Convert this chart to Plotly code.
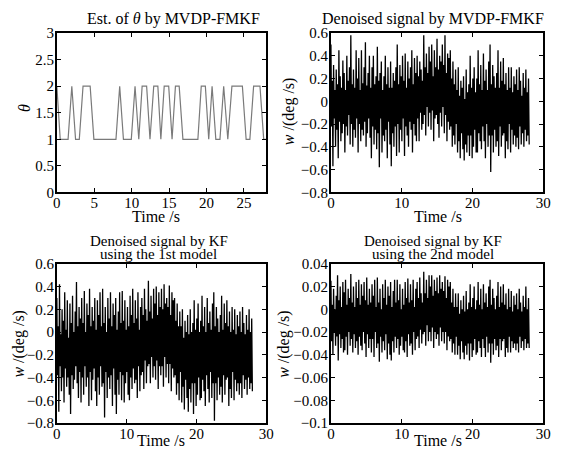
import numpy as np
import plotly.graph_objects as go

# ---- Data: theta estimate (corner points) ----
theta_t = [0, 0.45, 1.5, 2.0, 2.5, 3.0, 3.5, 4.45, 4.95, 7.9, 8.4, 8.9, 9.95, 10.45,
           10.95, 11.4, 12.0, 12.45, 12.95, 13.5, 13.9, 14.35, 14.95, 15.4, 15.85,
           16.35, 16.85, 18.85, 19.3, 19.85, 20.3, 20.75, 21.25, 21.8, 22.3, 22.85,
           23.4, 24.8, 25.3, 25.8, 26.3, 27.15, 27.65, 28.0]
theta_v = [2, 1, 1, 2, 1, 1, 2, 2, 1, 1, 2, 1, 1, 2,
           1, 2, 2, 1, 2, 2, 1, 2, 2, 1, 2,
           2, 1, 1, 2, 2, 1, 2, 1, 1, 2, 1,
           2, 2, 1, 1, 2, 2, 1, 1]

# ---- Data: denoised signals (peak / trough values) ----
w_mvdp = [
    0.50, -0.22, 0.18, -0.57, 0.32, -0.15, 0.10, -0.40, 0.28, -0.25,
    0.15, -0.50, 0.45, -0.18, 0.22, -0.35, 0.12, -0.28, 0.36, -0.20,
    0.25, -0.45, 0.10, -0.22, 0.40, -0.30, 0.18, -0.12, 0.30, -0.38,
    0.58, -0.20, 0.15, -0.40, 0.28, -0.25, 0.12, -0.32, 0.45, -0.15,
    0.20, -0.45, 0.38, -0.20, 0.10, -0.35, 0.45, -0.25, 0.16, -0.30,
    0.30, -0.18, 0.52, -0.40, 0.14, -0.28, 0.25, -0.15, 0.40, -0.32,
    0.12, -0.50, 0.30, -0.22, 0.40, -0.38, 0.15, -0.25, 0.22, -0.42,
    0.48, -0.28, 0.18, -0.58, 0.25, -0.15, 0.35, -0.45, 0.10, -0.30,
    0.22, -0.35, 0.40, -0.25, 0.15, -0.50, 0.30, -0.18, 0.12, -0.38,
    0.35, -0.57, 0.12, -0.28, 0.25, -0.40, 0.18, -0.22, 0.30, -0.48,
    0.50, -0.20, 0.15, -0.45, 0.32, -0.25, 0.22, -0.35, 0.40, -0.15,
    0.18, -0.48, 0.42, -0.22, 0.12, -0.30, 0.35, -0.40, 0.20, -0.18,
    0.30, -0.25, 0.45, -0.45, 0.15, -0.20, 0.38, -0.30, 0.25, -0.35,
    0.40, -0.15, 0.22, -0.35, 0.35, -0.10, 0.28, -0.25, 0.18, -0.20,
    0.58, -0.12, 0.30, -0.30, 0.42, -0.05, 0.25, -0.22, 0.48, -0.10,
    0.35, -0.25, 0.50, -0.08, 0.22, -0.35, 0.45, -0.15, 0.30, -0.12,
    0.55, -0.20, 0.28, -0.32, 0.40, -0.10, 0.35, -0.22, 0.50, -0.05,
    0.32, -0.28, 0.58, -0.12, 0.25, -0.35, 0.42, -0.18, 0.38, -0.25,
    0.45, -0.22, 0.20, -0.40, 0.35, -0.30, 0.15, -0.38, 0.28, -0.20,
    0.10, -0.45, 0.30, -0.35, 0.05, -0.50, 0.18, -0.28, 0.12, -0.42,
    0.22, -0.52, 0.02, -0.38, 0.28, -0.45, 0.08, -0.30, 0.15, -0.48,
    0.40, -0.30, 0.12, -0.50, 0.20, -0.40, 0.30, -0.25, 0.08, -0.45,
    0.20, -0.45, 0.45, -0.28, 0.15, -0.35, 0.32, -0.42, 0.10, -0.22,
    0.42, -0.35, 0.18, -0.50, 0.28, -0.20, 0.10, -0.40, 0.35, -0.30,
    0.50, -0.62, 0.15, -0.30, 0.32, -0.45, 0.22, -0.25, 0.12, -0.40,
    0.25, -0.35, 0.45, -0.48, 0.12, -0.22, 0.35, -0.40, 0.18, -0.30,
    0.38, -0.28, 0.15, -0.50, 0.25, -0.35, 0.10, -0.42, 0.30, -0.20,
    0.12, -0.45, 0.30, -0.25, 0.08, -0.38, 0.22, -0.30, 0.15, -0.40,
    0.28, -0.32, 0.10, -0.42, 0.30, -0.22, 0.18, -0.38, 0.05, -0.28,
    0.25, -0.40, 0.12, -0.25, 0.28, -0.35, 0.08, -0.30, 0.20, -0.38,
]
w_kf1 = [
    0.30, -0.38, 0.05, -0.70, 0.42, -0.30, -0.02, -0.52, 0.20, -0.40,
    0.10, -0.62, 0.35, -0.32, 0.02, -0.48, 0.28, -0.40, -0.05, -0.55,
    0.25, -0.72, 0.08, -0.38, 0.32, -0.50, 0.00, -0.42, 0.18, -0.30,
    0.44, -0.45, 0.05, -0.58, 0.22, -0.35, 0.12, -0.62, 0.30, -0.40,
    0.08, -0.55, 0.36, -0.30, 0.00, -0.48, 0.25, -0.40, 0.15, -0.65,
    0.38, -0.35, 0.05, -0.60, 0.22, -0.42, 0.10, -0.32, 0.30, -0.52,
    0.02, -0.65, 0.28, -0.40, 0.15, -0.55, 0.35, -0.30, 0.05, -0.48,
    0.38, -0.45, 0.08, -0.75, 0.22, -0.35, 0.00, -0.58, 0.30, -0.40,
    0.12, -0.50, 0.35, -0.38, 0.05, -0.65, 0.25, -0.32, 0.15, -0.55,
    0.30, -0.72, 0.02, -0.42, 0.18, -0.55, 0.35, -0.35, 0.08, -0.60,
    0.36, -0.38, 0.10, -0.62, 0.28, -0.45, 0.02, -0.35, 0.22, -0.55,
    0.05, -0.60, 0.32, -0.40, 0.15, -0.50, 0.38, -0.32, 0.08, -0.45,
    0.28, -0.42, 0.12, -0.58, 0.35, -0.30, 0.02, -0.52, 0.22, -0.38,
    0.30, -0.35, 0.15, -0.50, 0.38, -0.25, 0.20, -0.45, 0.10, -0.30,
    0.45, -0.28, 0.18, -0.45, 0.32, -0.22, 0.12, -0.40, 0.38, -0.30,
    0.25, -0.42, 0.40, -0.25, 0.15, -0.50, 0.35, -0.30, 0.22, -0.38,
    0.38, -0.30, 0.20, -0.48, 0.42, -0.22, 0.25, -0.40, 0.30, -0.28,
    0.22, -0.45, 0.41, -0.28, 0.15, -0.52, 0.35, -0.32, 0.28, -0.40,
    0.30, -0.38, 0.10, -0.55, 0.25, -0.45, 0.05, -0.60, 0.18, -0.35,
    0.05, -0.62, 0.20, -0.48, -0.05, -0.68, 0.10, -0.42, 0.00, -0.58,
    0.15, -0.70, -0.02, -0.50, 0.20, -0.62, 0.00, -0.45, 0.08, -0.72,
    0.28, -0.45, 0.02, -0.65, 0.12, -0.55, 0.25, -0.40, 0.00, -0.60,
    0.10, -0.58, 0.32, -0.42, 0.05, -0.52, 0.22, -0.65, 0.00, -0.38,
    0.30, -0.50, 0.08, -0.62, 0.18, -0.35, 0.02, -0.58, 0.25, -0.45,
    0.35, -0.78, 0.05, -0.45, 0.22, -0.60, 0.12, -0.40, 0.00, -0.55,
    0.15, -0.48, 0.32, -0.62, 0.02, -0.38, 0.25, -0.55, 0.08, -0.42,
    0.28, -0.40, 0.05, -0.65, 0.18, -0.50, 0.00, -0.58, 0.22, -0.35,
    0.02, -0.60, 0.20, -0.42, -0.02, -0.52, 0.15, -0.45, 0.05, -0.55,
    0.18, -0.45, 0.00, -0.58, 0.22, -0.38, 0.08, -0.50, -0.02, -0.42,
    0.15, -0.55, 0.02, -0.40, 0.20, -0.50, 0.00, -0.45, 0.12, -0.52,
]
w_kf2 = [
    0.025, -0.028, 0.004, -0.040, 0.018, -0.020, 0.000, -0.032, 0.012, -0.024,
    0.030, -0.045, 0.008, -0.022, 0.020, -0.034, 0.002, -0.026, 0.024, -0.038,
    0.015, -0.036, 0.026, -0.024, 0.004, -0.040, 0.018, -0.020, 0.010, -0.032,
    0.031, -0.026, 0.006, -0.038, 0.020, -0.022, 0.002, -0.034, 0.024, -0.028,
    0.010, -0.040, 0.026, -0.024, 0.004, -0.032, 0.022, -0.036, 0.012, -0.020,
    0.024, -0.030, 0.008, -0.042, 0.028, -0.022, 0.004, -0.034, 0.018, -0.026,
    0.006, -0.038, 0.022, -0.026, 0.012, -0.042, 0.026, -0.020, 0.002, -0.034,
    0.028, -0.030, 0.006, -0.046, 0.018, -0.024, 0.000, -0.038, 0.022, -0.028,
    0.010, -0.036, 0.026, -0.022, 0.004, -0.044, 0.020, -0.030, 0.012, -0.040,
    0.024, -0.045, 0.002, -0.028, 0.016, -0.038, 0.026, -0.024, 0.006, -0.034,
    0.026, -0.026, 0.008, -0.040, 0.022, -0.032, 0.000, -0.024, 0.018, -0.036,
    0.004, -0.038, 0.024, -0.028, 0.010, -0.042, 0.027, -0.022, 0.006, -0.032,
    0.022, -0.030, 0.008, -0.040, 0.026, -0.020, 0.002, -0.036, 0.018, -0.026,
    0.024, -0.024, 0.010, -0.034, 0.028, -0.018, 0.014, -0.030, 0.006, -0.022,
    0.033, -0.020, 0.014, -0.032, 0.026, -0.014, 0.010, -0.028, 0.030, -0.020,
    0.020, -0.028, 0.030, -0.016, 0.012, -0.034, 0.026, -0.020, 0.016, -0.026,
    0.028, -0.022, 0.014, -0.032, 0.030, -0.016, 0.018, -0.028, 0.024, -0.020,
    0.016, -0.030, 0.029, -0.020, 0.010, -0.036, 0.026, -0.024, 0.020, -0.028,
    0.024, -0.026, 0.006, -0.038, 0.018, -0.030, 0.002, -0.040, 0.014, -0.024,
    0.002, -0.040, 0.014, -0.032, -0.004, -0.044, 0.008, -0.028, 0.000, -0.038,
    0.012, -0.044, -0.002, -0.032, 0.016, -0.040, 0.000, -0.030, 0.006, -0.045,
    0.022, -0.030, 0.002, -0.042, 0.010, -0.036, 0.020, -0.026, 0.000, -0.040,
    0.008, -0.038, 0.024, -0.028, 0.004, -0.034, 0.018, -0.042, 0.000, -0.026,
    0.022, -0.034, 0.006, -0.042, 0.014, -0.024, 0.002, -0.038, 0.020, -0.030,
    0.026, -0.047, 0.004, -0.030, 0.018, -0.040, 0.010, -0.026, 0.000, -0.036,
    0.012, -0.032, 0.024, -0.042, 0.002, -0.026, 0.020, -0.036, 0.006, -0.028,
    0.022, -0.026, 0.004, -0.042, 0.014, -0.034, 0.000, -0.038, 0.018, -0.024,
    0.002, -0.038, 0.016, -0.028, -0.002, -0.034, 0.012, -0.030, 0.004, -0.036,
    0.014, -0.030, 0.000, -0.038, 0.018, -0.024, 0.006, -0.034, -0.002, -0.028,
    0.012, -0.036, 0.002, -0.026, 0.020, -0.034, 0.000, -0.030, 0.010, -0.034,
]
t_end = 28.0

W, H = 567, 461
FONT = "Liberation Serif"

def t_axis(vals):
    return np.linspace(0, t_end, len(vals))

fig = go.Figure()
fig.add_trace(go.Scatter(x=theta_t, y=theta_v, mode="lines",
                         line=dict(color="#7a7a7a", width=1.2),
                         xaxis="x", yaxis="y", showlegend=False))
for vals, ax in [(w_mvdp, "2"), (w_kf1, "3"), (w_kf2, "4")]:
    fig.add_trace(go.Scatter(x=t_axis(vals), y=vals, mode="lines",
                             line=dict(color="black", width=1.3, simplify=False),
                             xaxis="x" + ax, yaxis="y" + ax, showlegend=False))

def px_x(a, b):
    return [a / W, b / W]

def px_y(top, bottom):
    return [1 - bottom / H, 1 - top / H]

common = dict(showline=True, linecolor="black", linewidth=1.8, mirror="ticks",
              ticks="inside", ticklen=4, tickcolor="black", tickwidth=1,
              showgrid=False, zeroline=False,
              tickfont=dict(family=FONT, size=15, color="black"))

xl, xr = px_x(54, 268), px_x(334, 551)
yt, yb = px_y(26, 191), px_y(265, 430)

xstand = dict(ticklabelstandoff=-4)
ystand = dict(ticklabelstandoff=-2)

fig.update_layout(
    width=W, height=H, margin=dict(l=0, r=0, t=0, b=0),
    paper_bgcolor="white", plot_bgcolor="white",
    font=dict(family=FONT, size=15, color="black"),
    xaxis=dict(domain=xl, range=[0, 28], dtick=5, tick0=0, anchor="y", **common, **xstand),
    yaxis=dict(domain=yt, range=[0, 3], dtick=0.5, tick0=0, anchor="x", **common, **ystand),
    xaxis2=dict(domain=xr, range=[0, 30], dtick=10, tick0=0, anchor="y2", **common, **xstand),
    yaxis2=dict(domain=yt, range=[-0.8, 0.6], dtick=0.2, tick0=0, anchor="x2", **common, **ystand),
    xaxis3=dict(domain=xl, range=[0, 30], dtick=10, tick0=0, anchor="y3", **common, **xstand),
    yaxis3=dict(domain=yb, range=[-0.8, 0.6], dtick=0.2, tick0=0, anchor="x3", **common, **ystand),
    xaxis4=dict(domain=xr, range=[0, 30], dtick=10, tick0=0, anchor="y4", **common, **xstand),
    yaxis4=dict(domain=yb, range=[-0.1, 0.04], dtick=0.02, tick0=0, anchor="x4", **common, **ystand),
)

def ann(text, x, y, size=16, angle=0):
    fig.add_annotation(text=text, x=x / W, y=1 - y / H, xref="paper", yref="paper",
                       xanchor="center", yanchor="middle", showarrow=False,
                       textangle=angle, font=dict(family=FONT, size=size, color="black"))

ann("Est. of <i>θ</i> by MVDP-FMKF", 173, 11)
ann("Denoised signal by MVDP-FMKF", 438, 11)
ann("Denoised signal by KF", 158, 241, size=15)
ann("using the 1st model", 158, 255, size=15)
ann("Denoised signal by KF", 438, 241, size=15)
ann("using the 2nd model", 438, 255, size=15)

ann("Time /s", 155, 216)
ann("Time /s", 443, 216)
ann("Time /s", 160, 448)
ann("Time /s", 443, 448)

ann("<i>θ</i>", 21, 104, angle=-90)
ann("<i>w</i> /(deg /s)", 291, 107, angle=-90)
ann("<i>w</i> /(deg /s)", 15, 348, angle=-90)
ann("<i>w</i> /(deg /s)", 286, 348, angle=-90)

fig.write_html("out.html")
